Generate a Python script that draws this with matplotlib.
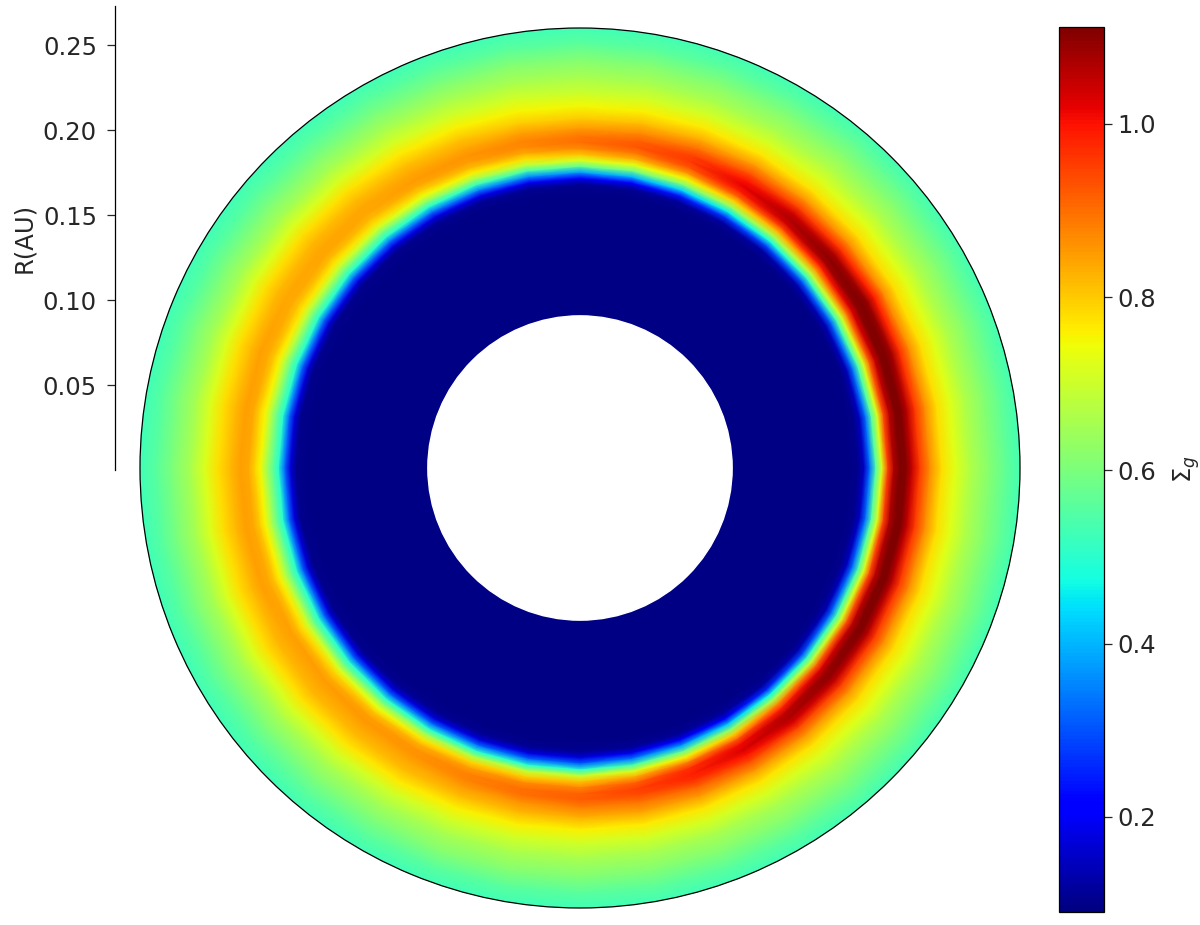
import numpy as np
from matplotlib import pyplot as plt

# radius of the table rows (AU), first and last lie outside the drawn ring
r_au = [0.0853, 0.1576, 0.1635, 0.1671, 0.1706, 0.1741, 0.1776, 0.1812, 0.1847, 0.1882,
        0.1918, 0.1953, 0.2000, 0.2059, 0.2129, 0.2206, 0.2294, 0.2412, 0.2500, 0.2647]
angles_deg = list(range(0, 361, 10))

# surface density read along each angle, inner to outer
s000 = [.095, .095, .105, .15, .33, .55, .72, .95, 1.07, 1.11, 1.105, 1.05, .955, .865, .78, .725, .665, .61, .57, .51]
s010 = [.095, .095, .105, .15, .33, .55, .72, .94, 1.06, 1.11, 1.11, 1.06, .96, .865, .78, .725, .665, .61, .57, .51]
s020 = [.095, .095, .10, .145, .33, .54, .72, .92, 1.05, 1.11, 1.12, 1.08, .97, .865, .78, .725, .665, .61, .57, .51]
s030 = [.095, .095, .10, .14, .32, .53, .71, .90, 1.03, 1.10, 1.12, 1.09, .99, .87, .78, .725, .665, .61, .57, .51]
s040 = [.095, .095, .10, .135, .31, .51, .69, .86, .99, 1.08, 1.10, 1.07, .97, .865, .78, .725, .665, .61, .57, .51]
s050 = [.095, .095, .10, .125, .29, .48, .66, .82, .95, 1.04, 1.07, 1.04, .95, .86, .775, .72, .665, .61, .57, .51]
s060 = [.095, .095, .10, .12, .27, .46, .64, .79, .91, .99, 1.02, 1.00, .93, .85, .77, .715, .66, .605, .565, .51]
s070 = [.095, .095, .10, .115, .24, .43, .61, .75, .86, .93, .96, .95, .90, .83, .765, .71, .66, .605, .565, .51]
s080 = [.095, .095, .10, .11, .22, .40, .59, .73, .83, .89, .925, .915, .87, .815, .76, .705, .66, .605, .56, .51]
s090 = [.095, .095, .10, .11, .20, .38, .57, .72, .81, .87, .90, .89, .85, .80, .75, .70, .66, .605, .56, .51]
s100 = [.095, .095, .10, .11, .19, .36, .54, .69, .78, .84, .87, .875, .845, .80, .755, .705, .66, .605, .56, .51]
s110 = [.095, .095, .10, .11, .185, .35, .52, .66, .76, .82, .85, .86, .84, .805, .76, .705, .66, .60, .56, .51]
s120 = [.095, .095, .10, .11, .18, .34, .50, .63, .74, .80, .84, .85, .84, .81, .765, .71, .66, .60, .56, .51]
s130 = [.095, .095, .10, .105, .18, .33, .50, .60, .71, .78, .82, .84, .84, .815, .775, .715, .655, .597, .555, .51]
s140 = [.095, .095, .10, .105, .175, .33, .50, .60, .70, .77, .815, .84, .84, .82, .78, .72, .655, .597, .555, .51]
s150 = [.095, .095, .10, .105, .17, .33, .50, .59, .69, .77, .81, .835, .84, .82, .78, .72, .655, .597, .555, .51]
s160 = [.095, .095, .10, .105, .17, .33, .50, .585, .68, .76, .805, .835, .845, .82, .78, .72, .655, .597, .555, .51]
s170 = [.095, .095, .10, .105, .17, .33, .50, .58, .67, .755, .80, .84, .845, .82, .78, .72, .655, .597, .555, .51]
s180 = [.095, .095, .10, .105, .17, .33, .50, .58, .66, .75, .80, .84, .845, .82, .78, .72, .655, .597, .555, .51]
s190 = [.095, .095, .10, .105, .17, .33, .50, .58, .67, .755, .805, .84, .845, .82, .78, .72, .655, .597, .555, .51]
s200 = [.095, .095, .10, .105, .17, .33, .50, .585, .68, .76, .81, .84, .845, .82, .78, .72, .655, .597, .555, .51]
s210 = [.095, .095, .10, .105, .17, .33, .50, .59, .70, .775, .82, .845, .84, .82, .78, .72, .655, .597, .555, .51]
s220 = [.095, .095, .10, .105, .175, .33, .50, .60, .72, .79, .83, .85, .84, .82, .775, .715, .655, .597, .555, .51]
s230 = [.095, .095, .10, .11, .175, .33, .50, .63, .74, .81, .845, .855, .84, .815, .77, .71, .655, .60, .56, .51]
s240 = [.095, .095, .10, .11, .175, .33, .50, .65, .77, .83, .86, .86, .84, .815, .765, .705, .655, .60, .56, .51]
s250 = [.095, .095, .10, .11, .175, .33, .50, .67, .79, .85, .88, .88, .85, .815, .76, .705, .655, .605, .56, .51]
s260 = [.095, .095, .10, .11, .18, .33, .50, .69, .80, .87, .90, .90, .86, .82, .76, .705, .66, .605, .56, .51]
s270 = [.095, .095, .10, .11, .18, .32, .50, .70, .81, .88, .915, .92, .88, .825, .76, .705, .66, .605, .56, .51]
s280 = [.095, .095, .10, .11, .19, .35, .54, .72, .84, .92, .95, .94, .89, .84, .765, .71, .66, .605, .565, .51]
s290 = [.095, .095, .10, .11, .20, .38, .58, .76, .89, .97, .985, .97, .91, .845, .77, .715, .66, .605, .565, .51]
s300 = [.095, .095, .10, .115, .22, .42, .62, .80, .93, 1.01, 1.03, 1.00, .93, .85, .77, .715, .66, .605, .565, .51]
s310 = [.095, .095, .10, .12, .26, .47, .66, .87, .99, 1.06, 1.07, 1.03, .94, .855, .775, .72, .665, .61, .57, .51]
s320 = [.095, .095, .10, .13, .29, .51, .69, .91, 1.03, 1.09, 1.095, 1.05, .95, .86, .78, .725, .665, .61, .57, .51]
s330 = [.095, .095, .105, .14, .32, .53, .71, .93, 1.06, 1.105, 1.105, 1.06, .955, .865, .78, .725, .665, .61, .57, .51]
s340 = [.095, .095, .105, .15, .33, .54, .72, .94, 1.06, 1.11, 1.11, 1.06, .955, .865, .78, .725, .665, .61, .57, .51]
s350 = [.095, .095, .105, .15, .33, .55, .72, .95, 1.07, 1.11, 1.11, 1.05, .955, .865, .78, .725, .665, .61, .57, .51]

r_ticks = [0.05, 0.10, 0.15, 0.20, 0.25]
cbar_ticks = [0.2, 0.4, 0.6, 0.8, 1.0]

W, H = 1200, 925
FS = 17.5

plt.rcParams['axes.linewidth'] = 0.9

# columns above are per angle, transpose so radius is the first index
sigma = np.array([s000, s010, s020, s030, s040, s050, s060, s070, s080, s090, s100, s110,
                  s120, s130, s140, s150, s160, s170, s180, s190, s200, s210, s220, s230,
                  s240, s250, s260, s270, s280, s290, s300, s310, s320, s330, s340, s350, s000]).T
theta = np.radians(angles_deg)

fig = plt.figure(figsize=(W / 100, H / 100), dpi=100)

ax = fig.add_axes([140 / W, (H - 908) / H, 880 / W, 880 / H], projection='polar')
mesh = ax.pcolormesh(theta, r_au, sigma, shading='gouraud', cmap='jet', vmin=0.09, vmax=1.112)
ax.set_ylim(0, 0.2588)
ax.grid(False)
ax.set_yticks([])
ax.set_xticks([np.pi / 2])
ax.set_xticklabels([''])
ax.tick_params(axis='x', length=1.5, width=1.2)
ax.spines['polar'].set_capstyle('butt')

# empty middle of the disc
hole = plt.Circle((0.5, 0.5), 0.0895 / 0.2588 / 2, transform=ax.transAxes, color='white', zorder=5)
ax.add_patch(hole)

# separate radius scale on the left, only the spine is shown
rax = fig.add_axes([115 / W, (H - 470) / H, 20 / W, 464 / H])
rax.patch.set_visible(False)
rax.set_ylim(0, 0.273)
rax.set_xticks([])
rax.set_yticks(r_ticks)
rax.set_yticklabels(['%.2f' % v for v in r_ticks])
rax.tick_params(axis='y', labelsize=FS, length=6, width=0.9, pad=7, colors='#262626')
for side in ['top', 'right', 'bottom']:
    rax.spines[side].set_visible(False)
rax.set_ylabel('R(AU)', fontsize=FS, color='#262626', labelpad=4.5)

cax = fig.add_axes([1059 / W, (H - 912) / H, 45 / W, 885 / H])
cb = fig.colorbar(mesh, cax=cax)
cb.set_ticks(cbar_ticks)
cb.ax.tick_params(labelsize=FS, length=6, width=0.9, colors='#262626')
cb.set_label(r'$\Sigma_g$', fontsize=FS, labelpad=11, color='#262626')

plt.savefig('out.png', dpi=100)
